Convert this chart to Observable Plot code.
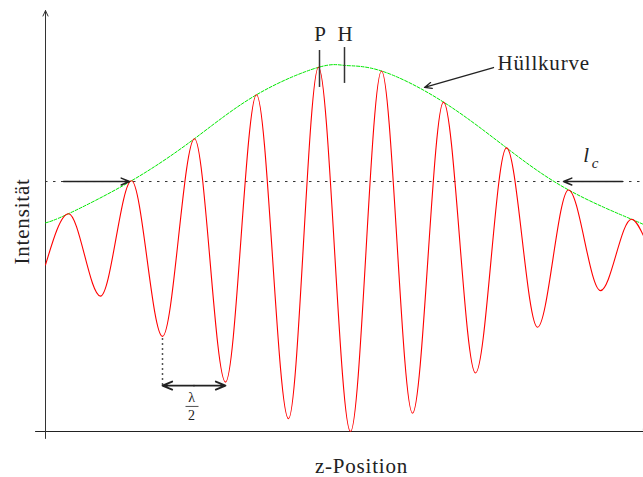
<!DOCTYPE html>
<html>
<head>
<meta charset="utf-8">
<script src="https://cdn.jsdelivr.net/npm/d3@7"></script>
<script src="https://cdn.jsdelivr.net/npm/@observablehq/plot@0.6"></script>
<style>
  html, body { margin: 0; padding: 0; background: #fff; }
  #chart svg text { font-family: "Liberation Serif", "DejaVu Serif", serif !important; letter-spacing: 0.8px; }
</style>
</head>
<body>
<div id="chart"></div>
<script>
// z position of each extremum of the interference signal and its intensity
const zExt = [0, 23, 55, 86, 117, 149, 180, 211, 243, 273, 305, 336, 367, 398, 430, 461, 492, 523, 555, 586, 598];
const iExt = [0.91, 1.19, 0.74, 1.37, 0.52, 1.60, 0.27, 1.84, 0.07, 1.99, 0.00, 1.97, 0.10, 1.80, 0.32, 1.55, 0.57, 1.32, 0.77, 1.16, 1.07];

// envelope (Hüllkurve)
const zEnv = [0, 23, 86, 149, 211, 273, 300, 336, 398, 461, 523, 586, 598];
const iEnv = [1.14, 1.19, 1.37, 1.60, 1.84, 1.99, 2.00, 1.97, 1.80, 1.55, 1.32, 1.16, 1.13];

// coherence length level
const lcLevel = 1.366;
const lcLeft = [18, 84];     // arrow from -> to
const lcRight = [577, 518];  // arrow from -> to

// marker positions P (peak) and H (envelope maximum)
const markerNames = ["P", "H"];
const markerZ = [274, 299];
const markerTop = [2.082, 2.098];
const markerBottom = [1.880, 1.902];

// λ/2 annotation: between two neighbouring minima
const halfLambdaZ = [117, 180];
const halfLambdaTroughI = 0.52;
const halfLambdaArrowI = 0.251;

// axis extents
const zDomain = [0, 598];
const iDomain = [0, 2.3005];

const signal = zExt.map((z, i) => ({z, I: iExt[i]}));
const envelope = zEnv.map((z, i) => ({z, I: iEnv[i]}));
const markers = markerNames.map((name, i) => ({name, z: markerZ[i], top: markerTop[i], bottom: markerBottom[i]}));
const midLambda = (halfLambdaZ[0] + halfLambdaZ[1]) / 2;

const serif = "Liberation Serif, DejaVu Serif, Times New Roman, serif";
const ink = "#222";
const T = {fontFamily: serif, fill: ink};

const chart = Plot.plot({
  width: 643,
  height: 477,
  marginLeft: 45,
  marginRight: 0,
  marginTop: 10,
  marginBottom: 46,
  x: {domain: zDomain, axis: null},
  y: {domain: iDomain, axis: null},
  style: {fontFamily: serif, fontSize: "21px", background: "#fff"},
  marks: [
    // axes
    Plot.arrow([0], {x1: -10, y1: 0, x2: 602, y2: 0, stroke: ink, strokeWidth: 1, headLength: 7, headAngle: 50}),
    Plot.arrow([0], {x1: 0, y1: -0.038, x2: 0, y2: 2.30, stroke: "#333", strokeWidth: 1, headLength: 9, headAngle: 50}),
    // level line l_c
    Plot.ruleY([lcLevel], {x1: 0, x2: 598, stroke: "#333", strokeWidth: 1, strokeDasharray: "2.5,5.5"}),
    // envelope
    Plot.line(envelope, {x: "z", y: "I", curve: "natural", stroke: "#00e800", strokeWidth: 1, strokeDasharray: "3,1.6"}),
    // signal
    Plot.line(signal, {x: "z", y: "I", curve: "monotone-x", stroke: "#ff0000", strokeWidth: 1.1}),
    // l_c arrows
    Plot.arrow([0], {x1: lcLeft[0], x2: lcLeft[1], y1: lcLevel, y2: lcLevel, stroke: ink, strokeWidth: 1.5, headLength: 9, headAngle: 45}),
    Plot.arrow([0], {x1: lcRight[0], x2: lcRight[1], y1: lcLevel, y2: lcLevel, stroke: ink, strokeWidth: 1.5, headLength: 9, headAngle: 45}),
    Plot.text(["l"], {...T, x: 541, y: 1.51, fontStyle: "italic", fontSize: 21}),
    Plot.text(["c"], {...T, x: 550, y: 1.465, fontStyle: "italic", fontSize: 15}),
    // P and H markers
    Plot.ruleX(markers, {x: "z", y1: "bottom", y2: "top", stroke: "#333", strokeWidth: 1.5}),
    Plot.text(markers, {...T, x: "z", y: 2.169, text: "name", fontSize: 21, dx: 1}),
    // Hüllkurve label + arrow
    Plot.arrow([0], {x1: 448, y1: 1.989, x2: 379, y2: 1.880, stroke: ink, strokeWidth: 1.3, headLength: 9, headAngle: 45}),
    Plot.text(["Hüllkurve"], {...T, x: 452, y: 2.011, textAnchor: "start", fontSize: 21}),
    // λ/2
    Plot.ruleX([halfLambdaZ[0]], {y1: halfLambdaArrowI, y2: halfLambdaTroughI, stroke: "#555", strokeWidth: 1.5, strokeDasharray: "2,3"}),
    Plot.arrow([0], {x1: midLambda, x2: halfLambdaZ[0], y1: halfLambdaArrowI, y2: halfLambdaArrowI, stroke: ink, strokeWidth: 1.8, headLength: 9, headAngle: 45}),
    Plot.arrow([0], {x1: midLambda, x2: halfLambdaZ[1], y1: halfLambdaArrowI, y2: halfLambdaArrowI, stroke: ink, strokeWidth: 1.8, headLength: 9, headAngle: 45}),
    Plot.text(["λ"], {...T, x: midLambda - 2, y: 0.186, fontSize: 14}),
    Plot.ruleY([0.137], {x1: midLambda - 8, x2: midLambda + 5, stroke: ink, strokeWidth: 0.8}),
    Plot.text(["2"], {...T, x: midLambda - 2, y: 0.088, fontSize: 14}),
    // axis titles
    Plot.text(["z-Position"], {...T, x: 316, y: -0.19, fontSize: 21}),
    Plot.text(["Intensität"], {...T, x: -23, y: 1.148, rotate: -90, fontSize: 21})
  ]
});
const inner = document.createElementNS("http://www.w3.org/2000/svg", "style");
inner.textContent = "text { font-family: 'Liberation Serif', serif !important; letter-spacing: 0.8px; }";
chart.insertBefore(inner, chart.firstChild);
document.getElementById("chart").appendChild(chart);
</script>
</body>
</html>
